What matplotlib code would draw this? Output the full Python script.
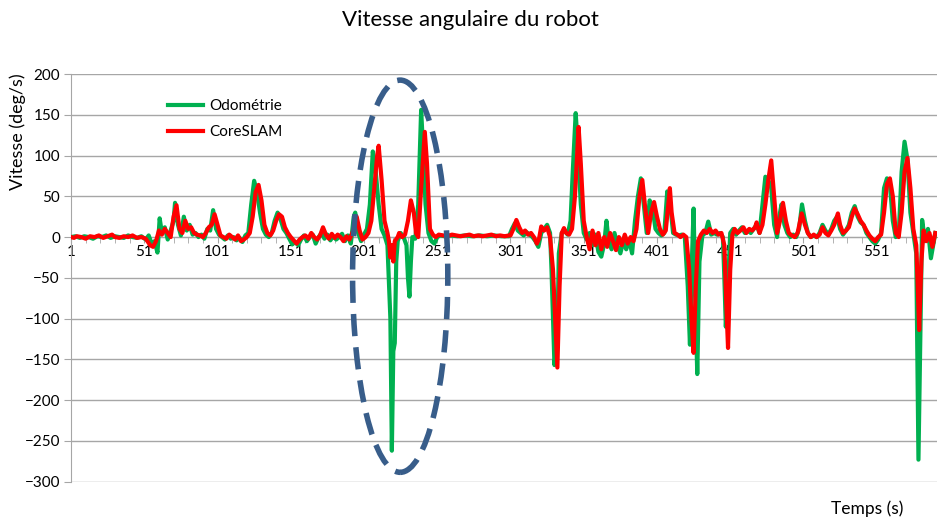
import matplotlib.pyplot as plt
from matplotlib.patches import Ellipse
import numpy as np

plt.rcParams['font.family'] = ['Lato', 'DejaVu Sans']

# Angular speed samples (time in s, speed in deg/s)
odometrie = [
    (1, 0), (4, 1), (7, -1), (10, 1), (13, 0), (16, -2), (19, 1), (22, 0), (25, 2), (28, -1),
    (31, 1), (34, 0), (37, -1), (40, 2), (43, 0), (46, -1), (49, 1), (52, -3), (54, 2), (56, -8),
    (58, -5), (60, -19), (61.5, 23), (63, 5), (65, 12), (67, -3), (69, 8), (71, 20), (72, 42), (74, 15),
    (76, 2), (78, 25), (80, 8), (82, 15), (84, 3), (86, 5), (88, 0), (90, 3), (92, -2), (94, 10),
    (96, 8), (98, 33), (100, 10), (102, 3), (104, 0), (106, -3), (108, 2), (110, -2), (112, 0), (114, -4),
    (116, -1), (118, -6), (120, 2), (122, 5), (124, 40), (126, 69), (128, 55), (130, 30), (132, 10), (134, 3),
    (136, 0), (138, 5), (140, 20), (142, 30), (144, 22), (146, 10), (148, 5), (150, -2), (152, -9), (154, -6),
    (156, -10), (158, -3), (160, 2), (162, -5), (164, 0), (166, 3), (168, -8), (170, 0), (172, 5), (174, -2),
    (176, 3), (178, -4), (180, 1), (182, -3), (184, 0), (186, 4), (188, -5), (190, 2), (192, -8), (194, 25),
    (195, 30), (197, 5), (199, -5), (201, 3), (203, 10), (205, 40), (207, 105), (209, 80), (211, 40), (213, 10),
    (215, 2), (217, -10), (219, -100), (220, -262), (221, -140), (222, -130), (223, -30), (224, -5), (226, 5), (228, 0),
    (230, -10), (231, -50), (232, -73), (233, -30), (234, 0), (236, -2), (238, 40), (240, 156), (241, 120), (243, 40),
    (245, 5), (247, -5), (249, -8), (251, 0), (253, 2), (256, 1), (260, 2), (265, 1), (270, 2), (275, 1),
    (280, 2), (285, 1), (290, 2), (295, 1), (300, 1), (302, 10), (304, 17), (306, 8), (308, 5), (310, 2),
    (312, 6), (314, 3), (316, 0), (318, -5), (320, -12), (322, 5), (324, 10), (326, 15), (328, 5), (329, -40),
    (331, -157), (333, -120), (334, -20), (336, 5), (338, 8), (340, 3), (342, 20), (343.5, 80), (345.5, 152), (347, 110),
    (349, 40), (351, 5), (353, -3), (355, 5), (357, -10), (359, 3), (361, -18), (363, -24), (365, -8), (366.5, 20),
    (368, -5), (370, -15), (372, 5), (374, -10), (376, -20), (378, -5), (380, -15), (382, -3), (384, -20), (386, 20),
    (388, 50), (390, 72), (392, 40), (394, 5), (396, 45), (398, 35), (400, 10), (402, 5), (404, 2), (406, 5),
    (408, 56), (410, 40), (412, 5), (414, 3), (416, 2), (418, 3), (420, 0), (422, -60), (423.5, -132), (425, -20),
    (426, 35), (427, -60), (428.5, -168), (430, -30), (432, 2), (434, 5), (436, 19), (438, 3), (440, 5), (442, 3),
    (444, 5), (446, 0), (447, -50), (448, -110), (449.5, -60), (451, 5), (453, 10), (455, 3), (457, 8), (459, 12),
    (461, 5), (463, 8), (465, 5), (467, 10), (469, 15), (471, 5), (473, 40), (475, 74), (477, 70), (479, 60),
    (481, 15), (483, 0), (485, 30), (486, 40), (488, 15), (490, 5), (492, 0), (494, 3), (496, 0), (498, 10),
    (500, 40), (502, 20), (504, 5), (506, 0), (508, 2), (510, 0), (512, 5), (514, 15), (516, 8), (518, 3),
    (520, 10), (522, 20), (524, 25), (526, 10), (528, 3), (530, 8), (532, 15), (534, 30), (536, 38), (538, 25),
    (540, 18), (542, 15), (544, 5), (546, 0), (548, -5), (550, -8), (552, -3), (554, 5), (556, 60), (558, 72),
    (560, 65), (562, 20), (564, 0), (566, 2), (568, 80), (570, 117), (572, 95), (574, 30), (576, 5), (578, -20),
    (579.5, -273), (581, -100), (582, 21), (584, -5), (586, 10), (588, -26), (590, -5), (591, 5),
]

coreslam = [
    (1, 0), (3, -1), (5, 1), (8, 0), (11, -2), (14, 1), (17, 0), (20, 2), (23, -1), (26, 1),
    (29, 3), (31, 0), (34, -1), (37, 1), (40, 0), (43, 2), (46, -1), (49, 0), (52, -2), (55, -10),
    (57, -12), (59, -5), (61, 8), (63, 3), (65, 10), (67, 5), (69, 0), (71, 25), (73, 39), (75, 10),
    (77, 5), (79, 20), (81, 10), (83, 12), (85, 5), (87, 3), (89, 2), (91, 0), (93, 5), (95, 12),
    (97, 15), (99, 28), (101, 15), (103, 2), (105, 0), (107, -2), (109, 3), (111, 0), (113, -3), (115, 2),
    (117, -5), (119, -3), (121, 0), (123, 5), (125, 25), (127, 55), (129, 64), (131, 45), (133, 15), (135, 5),
    (137, 2), (139, 8), (141, 20), (143, 28), (145, 25), (147, 12), (149, 5), (151, 0), (153, -4), (155, -8),
    (157, -3), (159, 0), (161, 2), (163, -2), (165, 5), (167, 0), (169, -3), (171, 2), (173, 12), (175, 3),
    (177, -2), (179, 4), (181, -1), (183, 3), (185, 0), (187, -5), (189, 1), (191, -3), (193, 5), (195, 15),
    (196, 25), (198, 8), (200, -3), (202, 0), (204, 5), (206, 20), (208, 60), (210, 100), (211, 112), (213, 70),
    (215, 20), (217, 5), (218, -5), (219, -25), (220, -10), (221, -30), (222, -5), (224, 0), (225, 5), (227, 0),
    (229, 3), (231, 20), (233, 45), (235, 30), (236.5, 5), (238, 0), (240, 60), (242.5, 129), (244, 90), (246, 10),
    (248, 3), (250, 0), (252, 3), (255, 2), (258, 1), (261, 3), (264, 2), (267, 1), (270, 2), (273, 3),
    (276, 1), (279, 2), (282, 1), (285, 2), (288, 3), (291, 1), (294, 2), (297, 1), (300, 2), (301, 2),
    (303, 10), (305, 21), (307, 12), (309, 5), (311, 8), (313, 3), (315, 5), (317, 0), (319, -8), (320.5, -2),
    (322, 13), (324, 8), (326, 12), (328, 0), (330, -40), (332, -120), (333, -160), (334.5, -60), (336, 5), (337.5, 11),
    (339, 5), (341, 3), (343, 10), (345, 50), (347.5, 135), (349, 90), (351, 20), (353, 0), (355, -15), (357, 8),
    (359, -10), (361, 5), (363, -15), (365, 0), (367, -12), (369, 5), (371, -5), (373, -16), (375, 0), (377, -10),
    (379, 3), (381, -8), (383, 0), (385, -5), (387, 10), (389, 49), (391, 70), (393, 35), (395, 5), (397, 30),
    (399, 43), (401, 25), (403, 10), (405, 3), (407, 8), (409.8, 60), (411, 30), (413, 5), (415, 3), (417, 0),
    (419, 3), (421, 0), (423, -40), (424.5, -100), (426, -142), (427.5, -60), (429, -5), (431, 3), (433, 8), (435, 5),
    (437, 10), (439, 5), (441, 8), (443, 3), (445, 5), (447, -10), (448.5, -90), (449.5, -136), (451, -40), (452.5, 3),
    (454, 10), (456, 5), (458, 8), (460, 12), (462, 5), (464, 10), (466, 8), (468, 12), (469, 18), (471, 5),
    (473, 15), (475, 40), (477, 70), (479, 94), (481, 50), (483, 5), (485, 20), (487, 42), (489, 20), (491, 5),
    (493, 2), (495, 0), (497, 5), (499.8, 29), (502, 15), (504, 5), (506, 0), (508, 3), (510, 0), (512, 3),
    (514, 12), (516, 5), (518, 2), (520, 8), (522, 15), (524.5, 29), (526, 15), (528, 5), (530, 8), (532, 12),
    (534, 25), (536, 35), (538, 28), (540, 20), (542, 15), (544, 8), (546, 2), (548, -2), (550, -5), (552, 0),
    (554, 3), (556, 30), (558, 65), (560, 72), (562, 50), (564, 5), (566, 0), (568, 30), (570, 80), (572, 97),
    (574, 60), (576, 10), (578, -10), (579, -60), (580, -114), (581.5, -30), (583, 8), (585, -5), (587, 5), (589, -12),
    (591, 5),
]

x_labels = np.arange(1, 592, 50)
y_ticks = np.arange(-300, 201, 50)

odo_t, odo_v = np.array(odometrie).T
slam_t, slam_v = np.array(coreslam).T

fig = plt.figure(figsize=(9.41, 5.23), dpi=100)
ax = fig.add_axes([0.0755, 0.079, 0.920, 0.7795])

# Series
ax.plot(odo_t, odo_v, color='#00B050', linewidth=3, label='Odométrie', zorder=3)
ax.plot(slam_t, slam_v, color='#FF0000', linewidth=3, label='CoreSLAM', zorder=4)

# Highlight around the 200-250 s zone
ell = Ellipse((225.7, -48), width=65, height=481, fill=False,
              edgecolor='#385D8A', linewidth=4, linestyle=(0, (4, 2)), zorder=5)
ax.add_patch(ell)

ax.set_xlim(1, 592)
ax.set_ylim(-300, 200)

# Horizontal grid
ax.set_yticks(y_ticks)
ax.grid(axis='y', color='#A6A6A6', linewidth=1)
ax.set_axisbelow(True)

# Category axis crosses at 0
ax.spines['bottom'].set_position(('data', 0))
ax.spines['bottom'].set_color('#A6A6A6')
ax.spines['left'].set_color('#A6A6A6')
ax.spines['top'].set_visible(False)
ax.spines['right'].set_visible(False)
ax.set_xticks(x_labels)
ax.set_xticks(np.arange(1, 592, 10), minor=True)
ax.tick_params(axis='x', which='both', direction='out', length=4, color='#A6A6A6', labelsize=11, pad=2)
ax.tick_params(axis='y', direction='out', length=5, color='#A6A6A6', labelsize=11, pad=3)

fig.text(0.5, 0.962, 'Vitesse angulaire du robot', ha='center', va='center', fontsize=16)
fig.text(0.019, 0.748, 'Vitesse (deg/s)', rotation=90, ha='center', va='center', fontsize=13)
fig.text(0.922, 0.027, 'Temps (s)', ha='center', va='center', fontsize=12.5)

ax.legend(loc='upper left', bbox_to_anchor=(0.096, 0.972), frameon=False, fontsize=11,
          handlelength=2.3, handletextpad=0.4, labelspacing=0.8)

plt.savefig('out.png', dpi=100)
